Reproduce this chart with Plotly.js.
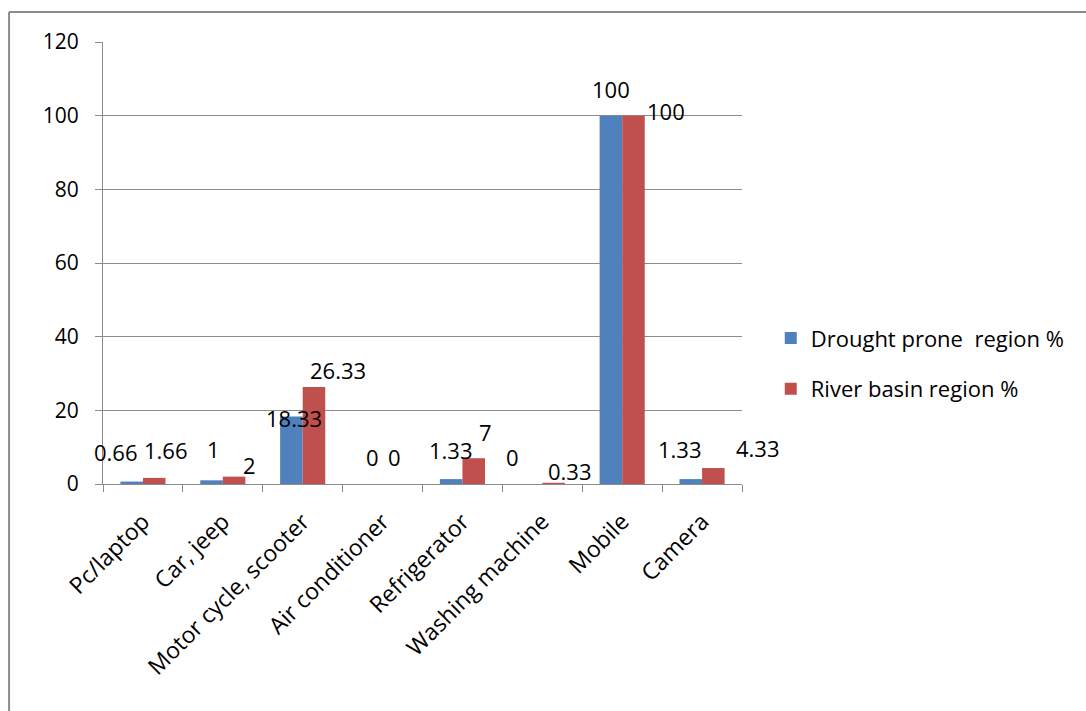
<!DOCTYPE html>
<html>
<head>
<meta charset="utf-8">
<script src="https://cdn.plot.ly/plotly-3.0.1.min.js"></script>
<style>
  html, body { margin: 0; padding: 0; background: #ffffff; }
  #chart { width: 1086px; height: 711px; }
</style>
</head>
<body>
<div id="chart"></div>
<script>
// Household assets owned, share of households (%)
const categories = ["Pc/laptop", "Car, jeep", "Motor cycle, scooter", "Air conditioner",
                    "Refrigerator", "Washing machine", "Mobile", "Camera"];
const droughtProne = [0.66, 1, 18.33, 0, 1.33, 0, 100, 1.33];
const riverBasin   = [1.66, 2, 26.33, 0, 7, 0.33, 100, 4.33];
const seriesNames  = ["Drought prone \u00a0region %", "River basin region %"];
const yTicks = [0, 20, 40, 60, 80, 100, 120];

// Value-label nudges (pixels, relative to the category centre and bar top)
const dropLabelShift  = [[-27, 30], [-9, 31], [-9, -2], [-10, 27], [-11, 29], [-30, 27], [-11, 27], [-22, 30]];
const riverLabelShift = [[23, 28], [27, 12], [35, 17], [12, 27], [23, 26], [28, 12], [44, 5], [56, 20]];

const FONT = "'Open Sans', sans-serif";
const GRID = "#8c8c8c";

const traces = [
  { type: "bar", name: seriesNames[0], x: categories, y: droughtProne,
    marker: { color: "#4f81bd" }, legendgroup: "a", hoverinfo: "x+y" },
  { type: "bar", name: seriesNames[1], x: categories, y: riverBasin,
    marker: { color: "#c0504d" }, legendgroup: "b", hoverinfo: "x+y" }
];

const annotations = [];
function addLabels(values, shifts) {
  values.forEach((v, i) => {
    annotations.push({
      x: categories[i], y: v, xref: "x", yref: "y",
      text: String(v), showarrow: false,
      xanchor: "center", yanchor: "middle",
      xshift: shifts[i][0], yshift: shifts[i][1],
      font: { family: FONT, size: 22, color: "#000000" }
    });
  });
}
addLabels(droughtProne, dropLabelShift);
addLabels(riverBasin, riverLabelShift);

const layout = {
  width: 1086, height: 711,
  margin: { l: 103, r: 344, t: 42, b: 227 },
  paper_bgcolor: "#ffffff", plot_bgcolor: "#ffffff",
  font: { family: FONT, size: 21, color: "#000000" },
  barmode: "group", bargap: 0.435, bargroupgap: 0,
  showlegend: true,
  legend: {
    x: 1.045, xanchor: "left", y: 0.272, yanchor: "middle",
    traceorder: "grouped", tracegroupgap: 19,
    font: { family: FONT, size: 22, color: "#000000" },
    bgcolor: "rgba(0,0,0,0)"
  },
  xaxis: {
    type: "category", range: [-0.5, categories.length - 0.5], tickangle: -45,
    showline: true, linecolor: GRID, linewidth: 1,
    ticks: "outside", tickson: "boundaries", ticklen: 7, tickcolor: GRID,
    showgrid: false, zeroline: false, ticklabelstandoff: 14,
    tickfont: { family: FONT, size: 23, color: "#000000" }
  },
  yaxis: {
    range: [0, 120], tickvals: yTicks, ticktext: yTicks.map(String),
    showline: true, linecolor: GRID, linewidth: 1,
    ticks: "outside", ticklen: 7, tickcolor: GRID,
    showgrid: true, gridcolor: GRID, gridwidth: 1,
    zeroline: false, ticklabelstandoff: 12,
    tickfont: { family: FONT, size: 21, color: "#000000" }
  },
  shapes: [
    // chart-area frame (top and left edges)
    { type: "line", xref: "paper", yref: "paper", x0: -0.147, x1: 1.6, y0: 1.0679, y1: 1.0679,
      line: { color: "#8c8c8c", width: 2 } },
    { type: "line", xref: "paper", yref: "paper", x0: -0.147, x1: -0.147, y0: 1.0679, y1: -0.6,
      line: { color: "#8c8c8c", width: 2 } }
  ],
  annotations: annotations
};

Plotly.newPlot("chart", traces, layout, { displayModeBar: false, staticPlot: true });
</script>
</body>
</html>
